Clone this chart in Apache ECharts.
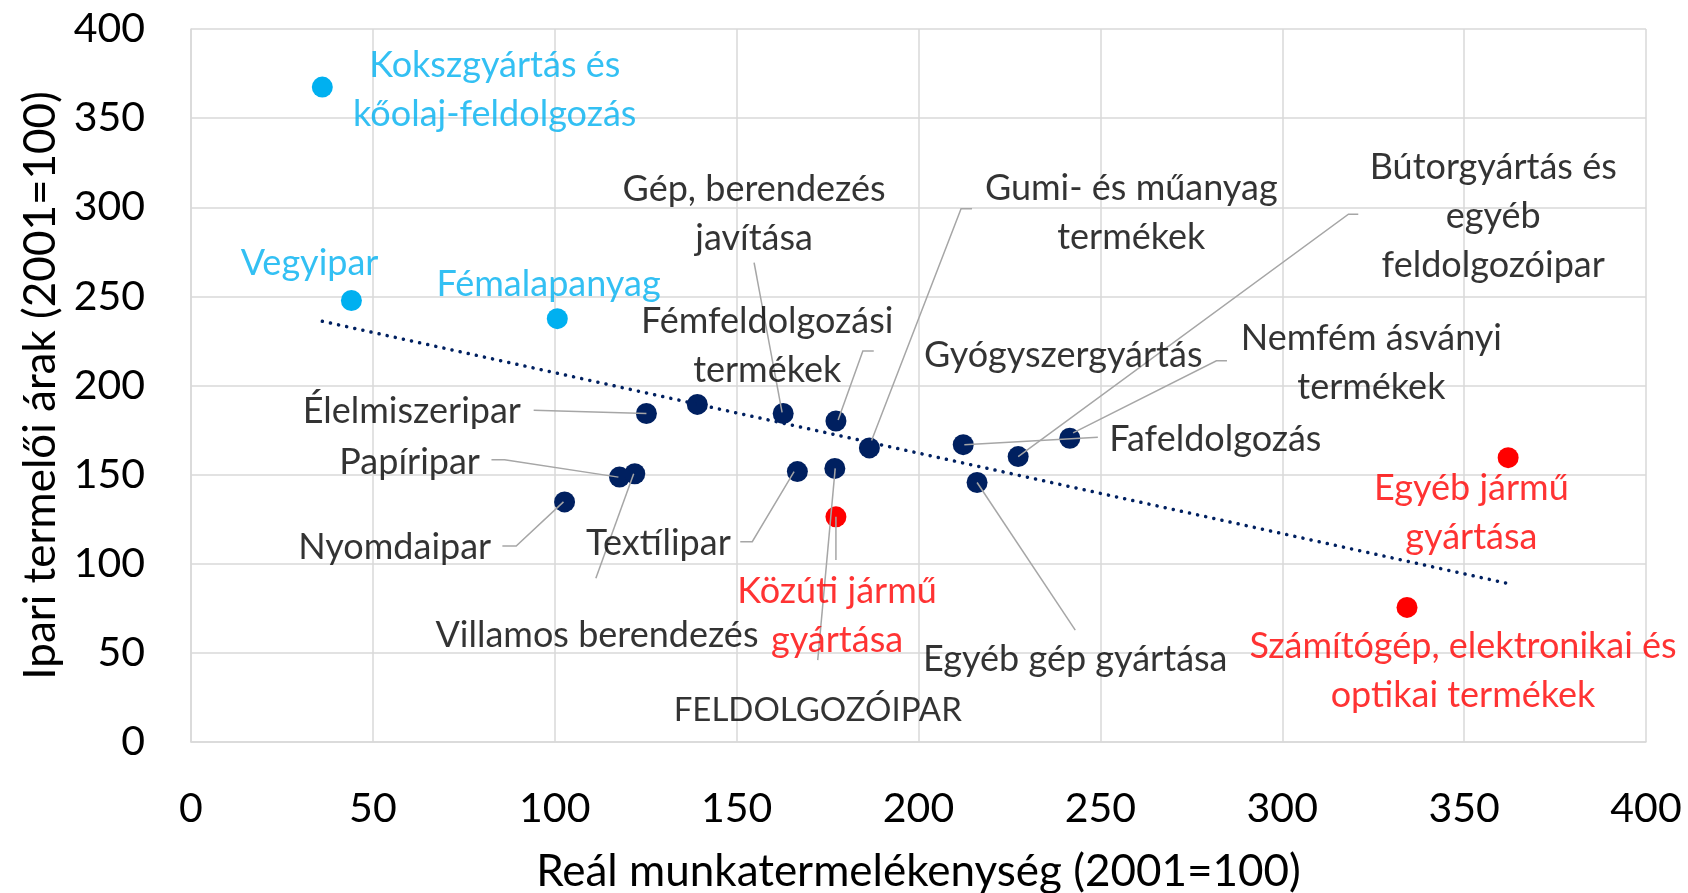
<!DOCTYPE html>
<html>
<head>
<meta charset="utf-8">
<script src="https://cdn.jsdelivr.net/npm/echarts@6.0.0/dist/echarts.min.js"></script>
<style>
  html, body { margin: 0; padding: 0; background: #fff; }
  #chart-container { width: 1688px; height: 893px; }
</style>
</head>
<body>
<div id="chart-container"></div>
<script>
// points, grouped by marker colour
var blueNames = ['Kokszgyártás és kőolaj-feldolgozás', 'Vegyipar', 'Fémalapanyag'];
var blueX = [36.1, 44.1, 100.7];
var blueY = [367.4, 247.7, 237.5];

var navyNames = ['Élelmiszeripar', 'Gyógyszergyártás', 'Gép, berendezés javítása', 'Fémfeldolgozási termékek',
  'Gumi- és műanyag termékek', 'Papíripar', 'Villamos berendezés', 'Nyomdaipar', 'Textílipar',
  'FELDOLGOZÓIPAR', 'Fafeldolgozás', 'Bútorgyártás és egyéb feldolgozóipar', 'Nemfém ásványi termékek',
  'Egyéb gép gyártása'];
var navyX = [125.2, 139.2, 162.8, 177.3, 186.5, 117.8, 122.0, 102.7, 166.7, 177.0, 212.3, 227.4, 241.6, 216.1];
var navyY = [184.3, 189.4, 184.3, 180.1, 165.0, 148.6, 150.5, 134.7, 151.7, 153.5, 166.8, 160.1, 170.4, 145.6];

var redNames = ['Közúti jármű gyártása', 'Egyéb jármű gyártása', 'Számítógép, elektronikai és optikai termékek'];
var redX = [177.3, 362.1, 334.3];
var redY = [126.3, 159.5, 75.5];

var axisTicks = [0, 50, 100, 150, 200, 250, 300, 350, 400];

// data labels: text, where it sits (data units), colour
var labelText = [
  'Kokszgyártás és\nkőolaj-feldolgozás', 'Vegyipar', 'Fémalapanyag',
  'Gép, berendezés\njavítása', 'Gumi- és műanyag\ntermékek', 'Bútorgyártás és\negyéb\nfeldolgozóipar',
  'Fémfeldolgozási\ntermékek', 'Gyógyszergyártás', 'Nemfém ásványi\ntermékek', 'Fafeldolgozás',
  'Élelmiszeripar', 'Papíripar', 'Nyomdaipar', 'Textílipar', 'Villamos berendezés',
  'Közúti jármű\ngyártása', 'FELDOLGOZÓIPAR', 'Egyéb gép gyártása',
  'Egyéb jármű\ngyártása', 'Számítógép, elektronikai és\noptikai termékek'
];
var labelAt = [
  [83.5, 366.0], [32.6, 268.3], [98.3, 256.8],
  [154.8, 296.5], [258.5, 297.1], [358.0, 295.0],
  [158.4, 222.2], [239.8, 216.9], [324.5, 212.5], [281.6, 169.6],
  [60.7, 185.6], [60.1, 156.6], [56.0, 108.9], [128.5, 111.3], [111.6, 59.9],
  [177.6, 70.5], [172.3, 17.8], [243.1, 46.6],
  [352.0, 128.4], [349.7, 39.7]
];
var labelColor = ['#00B0F0', '#00B0F0', '#00B0F0', '#000', '#000', '#000', '#000', '#000', '#000', '#000',
  '#000', '#000', '#000', '#000', '#000', '#FF0000', '#000', '#000', '#FF0000', '#FF0000'];

// leader lines, data units
var leaders = [
  [[94.2, 186.1], [125.2, 184.3]],
  [[82.6, 158.3], [86.2, 158.3], [117.5, 148.6]],
  [[85.6, 110.0], [89.4, 110.0], [102.4, 134.7]],
  [[111.3, 91.8], [121.7, 150.5]],
  [[151.0, 112.4], [154.3, 112.4], [165.8, 151.7]],
  [[154.8, 268.9], [162.5, 184.9]],
  [[187.7, 219.3], [184.7, 219.3], [177.9, 180.7]],
  [[214.7, 299.1], [211.7, 299.1], [187.1, 169.2]],
  [[320.9, 296.1], [318.2, 296.1], [227.4, 160.1]],
  [[284.8, 213.9], [281.9, 213.9], [242.5, 173.4]],
  [[249.3, 171.0], [212.6, 166.8]],
  [[172.3, 45.9], [177.1, 153.5]],
  [[177.3, 102.1], [177.3, 126.3]],
  [[243.1, 62.8], [216.1, 145.6]]
];

var FONT = 'Lato, sans-serif';

function pts(xs, ys, names) {
  return xs.map(function (x, i) { return { name: names[i], value: [x, ys[i]] }; });
}

// least squares trend over every point
var allX = blueX.concat(navyX, redX);
var allY = blueY.concat(navyY, redY);
var mx = allX.reduce(function (a, b) { return a + b; }, 0) / allX.length;
var my = allY.reduce(function (a, b) { return a + b; }, 0) / allY.length;
var sxy = 0, sxx = 0;
allX.forEach(function (x, i) { sxy += (x - mx) * (allY[i] - my); sxx += (x - mx) * (x - mx); });
var slope = sxy / sxx;
var icpt = my - slope * mx;
var x0 = Math.min.apply(null, allX), x1 = Math.max.apply(null, allX);

var dom = document.getElementById('chart-container');
var myChart = echarts.init(dom, null, { renderer: 'canvas' });

var axisCommon = {
  type: 'value',
  min: axisTicks[0],
  max: axisTicks[axisTicks.length - 1],
  interval: 50,
  axisLine: { show: true, lineStyle: { color: '#D9D9D9', width: 1.5 } },
  axisTick: { show: false },
  splitLine: { show: true, lineStyle: { color: '#D9D9D9', width: 1.5 } },
  axisLabel: { color: '#000', fontFamily: FONT, fontSize: 41 },
  nameLocation: 'middle',
  nameTextStyle: { color: '#000', fontFamily: FONT, fontSize: 44 }
};

var option = {
  animation: false,
  backgroundColor: '#fff',
  grid: { left: 191, right: 42, top: 29, bottom: 151, outerBoundsMode: 'none' },
  xAxis: Object.assign({}, axisCommon, {
    name: 'Reál munkatermelékenység (2001=100)',
    nameGap: 108,
    axisLabel: Object.assign({}, axisCommon.axisLabel, { margin: 46 })
  }),
  yAxis: Object.assign({}, axisCommon, {
    name: 'Ipari termelői árak (2001=100)',
    nameGap: 123,
    axisLabel: Object.assign({}, axisCommon.axisLabel, { margin: 46 })
  }),
  series: [
    {
      type: 'scatter', symbolSize: 21, z: 2,
      itemStyle: { color: '#00B0F0', opacity: 1 },
      data: pts(blueX, blueY, blueNames)
    },
    {
      type: 'scatter', symbolSize: 21, z: 2,
      itemStyle: { color: '#002060', opacity: 1 },
      data: pts(navyX, navyY, navyNames)
    },
    {
      type: 'scatter', symbolSize: 21, z: 2,
      itemStyle: { color: '#FF0000', opacity: 1 },
      data: pts(redX, redY, redNames)
    },
    {
      type: 'line', z: 3, silent: true,
      showSymbol: false, symbol: 'none',
      lineStyle: { color: '#002060', width: 3.5, type: [0.1, 8.2], cap: 'round' },
      data: [[x0, icpt + slope * x0], [x1, icpt + slope * x1]]
    },
    {
      type: 'lines', coordinateSystem: 'cartesian2d', polyline: true, z: 4, silent: true,
      lineStyle: { color: '#A6A6A6', width: 1.5, opacity: 1 },
      data: leaders.map(function (p) { return { coords: p }; })
    },
    {
      type: 'scatter', symbolSize: 0, z: 5, silent: true,
      itemStyle: { color: 'transparent' },
      label: {
        show: true, position: 'inside', formatter: '{b}',
        fontFamily: FONT, fontSize: 36, lineHeight: 49, align: 'center'
      },
      data: labelText.map(function (t, i) {
        var lab = { color: labelColor[i] };
        if (t === 'FELDOLGOZÓIPAR') lab.fontSize = 33;
        return { name: t, value: labelAt[i], label: lab };
      })
    }
  ]
};

if (option && typeof option === 'object') {
  myChart.setOption(option);
}

window.addEventListener('resize', myChart.resize);
</script>
</body>
</html>
